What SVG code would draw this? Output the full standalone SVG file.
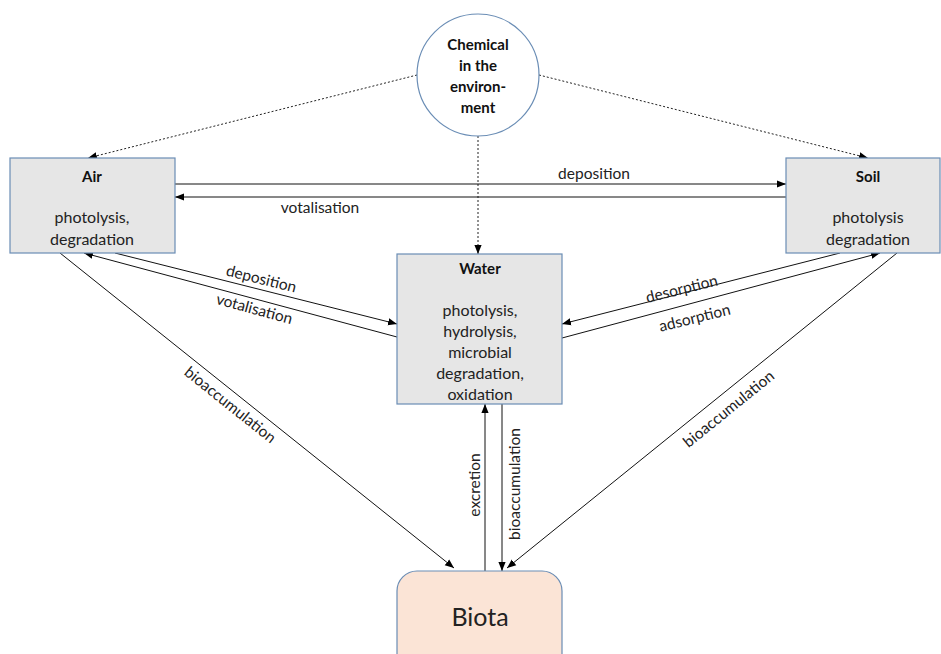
<svg xmlns="http://www.w3.org/2000/svg" width="941" height="654" viewBox="0 0 941 654">
  <defs>
    <marker id="arrow" viewBox="0 0 10 10" refX="10" refY="5" markerWidth="9" markerHeight="9" markerUnits="userSpaceOnUse" orient="auto">
      <path d="M0,1 L10,5 L0,9 Z" fill="#000"/>
    </marker>
    <style>
      .box { fill: #e6e6e6; stroke: #6a8db5; stroke-width: 1.2; }
      .title { font-family: Lato, "Liberation Sans", sans-serif; font-weight: bold; font-size: 15px; fill: #111; text-anchor: middle; }
      .ctitle { font-family: Lato, "Liberation Sans", sans-serif; font-weight: bold; font-size: 15px; fill: #111; text-anchor: middle; }
      .body { font-family: Lato, "Liberation Sans", sans-serif; font-size: 16px; fill: #222; text-anchor: middle; }
      .big { font-family: Lato, "Liberation Sans", sans-serif; font-size: 25px; fill: #222; text-anchor: middle; }
      .lbl { font-family: Lato, "Liberation Sans", sans-serif; font-size: 15.5px; fill: #222; text-anchor: middle; }
      .edge { stroke: #111; stroke-width: 1; fill: none; marker-end: url(#arrow); }
      .dot { stroke: #222; stroke-width: 1; fill: none; stroke-dasharray: 2 2; marker-end: url(#arrow); }
    </style>
  </defs>
  <rect width="941" height="654" fill="#fff"/>

  <!-- connectors -->
  <g id="connectors">
    <line class="dot" x1="417" y1="75" x2="88" y2="158"/>
    <line class="dot" x1="539" y1="75" x2="868" y2="158"/>
    <line class="dot" x1="478" y1="136" x2="478" y2="254"/>

    <line class="edge" x1="175" y1="184" x2="786" y2="184"/>
    <line class="edge" x1="786" y1="197" x2="175" y2="197"/>

    <line class="edge" x1="115" y1="253" x2="397" y2="324"/>
    <line class="edge" x1="397" y1="337" x2="84" y2="253"/>

    <line class="edge" x1="840" y1="253" x2="562" y2="324"/>
    <line class="edge" x1="562" y1="338" x2="880" y2="253"/>

    <line class="edge" x1="60" y1="253" x2="454" y2="568"/>
    <line class="edge" x1="897" y1="253" x2="507" y2="568"/>

    <line class="edge" x1="485" y1="571" x2="485" y2="404"/>
    <line class="edge" x1="502" y1="404" x2="502" y2="571"/>

    <text class="lbl" x="594" y="179">deposition</text>
    <text class="lbl" x="320" y="213">votalisation</text>
    <text class="lbl" transform="translate(260,284) rotate(14)">deposition</text>
    <text class="lbl" transform="translate(253,314) rotate(15)">votalisation</text>
    <text class="lbl" transform="translate(683,294) rotate(-14)">desorption</text>
    <text class="lbl" transform="translate(696,323) rotate(-14)">adsorption</text>
    <text class="lbl" transform="translate(227,409) rotate(38.6)">bioaccumulation</text>
    <text class="lbl" transform="translate(732,413) rotate(-39)">bioaccumulation</text>
    <text class="lbl" transform="translate(480,485) rotate(-90)">excretion</text>
    <text class="lbl" transform="translate(520,484) rotate(-90)">bioaccumulation</text>
  </g>

  <g id="chemical">
    <circle cx="478" cy="75" r="61" fill="#fff" stroke="#6a8db5" stroke-width="1.2"/>
    <text class="ctitle" x="478" y="50">Chemical</text>
    <text class="ctitle" x="478" y="71">in the</text>
    <text class="ctitle" x="478" y="92">environ-</text>
    <text class="ctitle" x="478" y="113">ment</text>
  </g>

  <g id="air">
    <rect class="box" x="10" y="158" width="165" height="95"/>
    <text class="title" x="92" y="182">Air</text>
    <text class="body" x="92" y="223">photolysis,</text>
    <text class="body" x="92" y="245">degradation</text>
  </g>

  <g id="soil">
    <rect class="box" x="786" y="158" width="154" height="95"/>
    <text class="title" x="868" y="182">Soil</text>
    <text class="body" x="868" y="223">photolysis</text>
    <text class="body" x="868" y="245">degradation</text>
  </g>

  <g id="water">
    <rect class="box" x="397" y="254" width="165" height="150"/>
    <text class="title" x="480" y="274">Water</text>
    <text class="body" x="480" y="316">photolysis,</text>
    <text class="body" x="480" y="337">hydrolysis,</text>
    <text class="body" x="480" y="358">microbial</text>
    <text class="body" x="480" y="379">degradation,</text>
    <text class="body" x="480" y="400">oxidation</text>
  </g>

  <g id="biota">
    <rect x="397" y="571" width="165" height="110" rx="20" ry="20" fill="#fbe4d6" stroke="#6a8db5" stroke-width="1.2"/>
    <text class="big" x="480" y="626">Biota</text>
  </g>
</svg>
